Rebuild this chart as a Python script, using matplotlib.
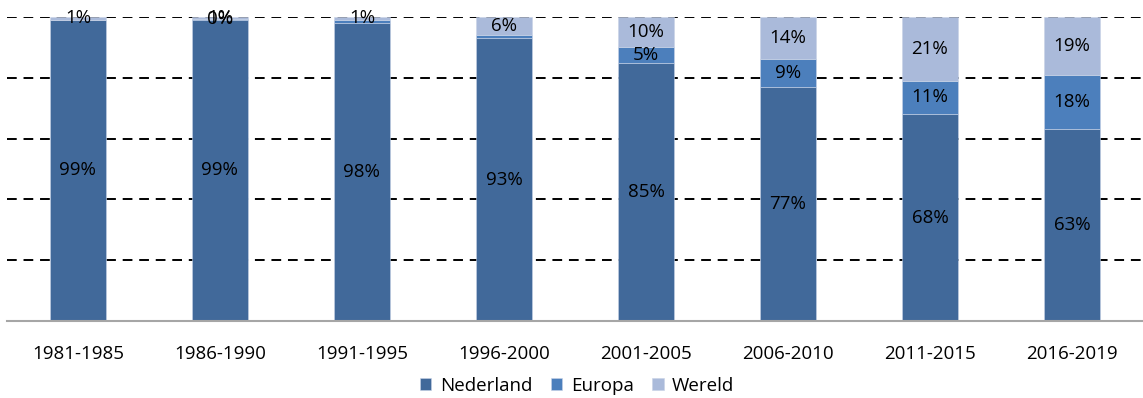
import matplotlib
matplotlib.use("Agg")
import matplotlib.pyplot as plt
import numpy as np

categories = ["1981-1985", "1986-1990", "1991-1995", "1996-2000",
              "2001-2005", "2006-2010", "2011-2015", "2016-2019"]
nederland = [99, 99, 98, 93, 85, 77, 68, 63]
europa = [0, 0.3, 1, 1, 5, 9, 11, 18]
wereld = [1, 0.7, 1, 6, 10, 14, 21, 19]
nederland_labels = ["99%", "99%", "98%", "93%", "85%", "77%", "68%", "63%"]
europa_labels = ["", "0%", "", "", "5%", "9%", "11%", "18%"]
wereld_labels = ["1%", "1%", "1%", "6%", "10%", "14%", "21%", "19%"]

colors = {"Nederland": "#41699A", "Europa": "#4C7FBC", "Wereld": "#AABADA"}

plt.rcParams['font.family'] = ['Open Sans', 'DejaVu Sans']

fig = plt.figure(figsize=(11.43, 3.98), dpi=100)
ax = fig.add_axes([0.006, 0.1935, 0.994, 0.764])

x = np.arange(len(categories))
w = 0.39
series = [("Nederland", nederland, nederland_labels),
          ("Europa", europa, europa_labels),
          ("Wereld", wereld, wereld_labels)]
bottom = np.zeros(len(categories))
for name, vals, labs in series:
    vals = np.array(vals, dtype=float)
    ax.bar(x, vals, w, bottom=bottom, color=colors[name], label=name,
           edgecolor="#C8D3E6", linewidth=0.4, zorder=2)
    for xi, b, v, t in zip(x, bottom, vals, labs):
        if t:
            ax.text(xi, b + v / 2, t, ha="center", va="center",
                    fontsize=13.5, color="black", zorder=3)
    bottom += vals

ax.set_xlim(-0.5, len(categories) - 0.5)
ax.set_ylim(0, 100)
ax.set_yticks([20, 40, 60, 80, 100])
ax.yaxis.grid(True, color="black", linestyle=(0, (5, 3.5)), linewidth=1.4, zorder=0)
ax.set_axisbelow(True)
ax.tick_params(axis="y", left=False, labelleft=False)
ax.set_xticks(x)
ax.set_xticklabels(categories, fontsize=13.5, color="black")
ax.tick_params(axis="x", length=0, pad=17)
for s in ["top", "right", "left"]:
    ax.spines[s].set_visible(False)
ax.spines["bottom"].set_color("#A6A6A6")
ax.spines["bottom"].set_linewidth(1.5)

fig.legend(loc="lower center", bbox_to_anchor=(0.505, -0.035), ncol=3, frameon=False,
           fontsize=13.5, handlelength=0.6, handleheight=0.6, handletextpad=0.45,
           columnspacing=1.0)

fig.savefig("out.png", dpi=100)
